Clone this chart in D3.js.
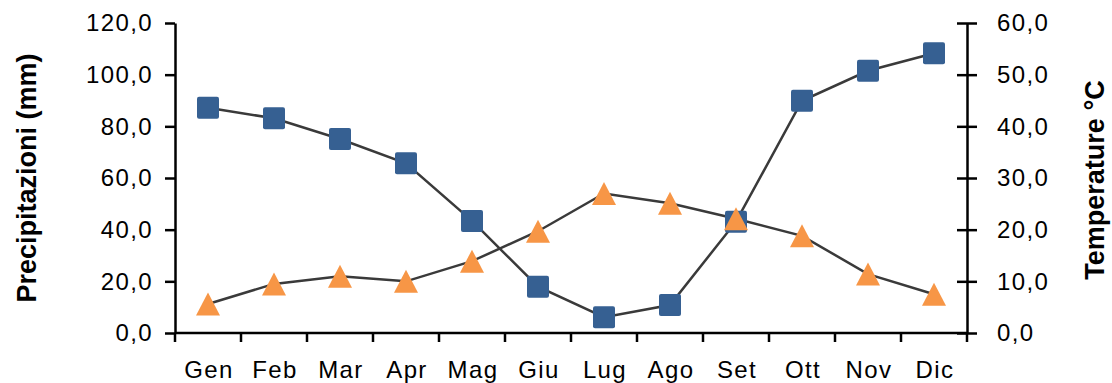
<!DOCTYPE html>
<html lang="it">
<head>
    <meta charset="UTF-8">
    <title>Precipitazioni e temperature</title>
    <script src="https://cdn.jsdelivr.net/npm/d3@7"></script>
    <style>
        body { margin: 0; background: #fff; }
        svg { display: block; }
        .tick-label { font-family: "Liberation Sans", Arial, sans-serif; font-size: 24px; letter-spacing: 1.4px; fill: #000; }
        .axis-title { font-family: "Liberation Sans", Arial, sans-serif; font-size: 27px; font-weight: bold; fill: #000; }
    </style>
</head>
<body>
<div id="chart"></div>
<script>
    // ---- data ----
    const months = ["Gen", "Feb", "Mar", "Apr", "Mag", "Giu", "Lug", "Ago", "Set", "Ott", "Nov", "Dic"];
    const precipitazioni = [87.2, 83.1, 75.1, 65.7, 43.4, 17.9, 6.1, 10.8, 43.1, 89.9, 101.5, 108.3];
    const temperature = [5.6, 9.5, 11.0, 10.0, 13.9, 19.7, 27.0, 25.1, 22.1, 18.8, 11.4, 7.5];
    const leftTicks = [0, 20, 40, 60, 80, 100, 120];
    const rightTicks = [0, 10, 20, 30, 40, 50, 60];

    // ---- layout ----
    const width = 1112, height = 383;
    const plot = { left: 175, right: 967, top: 23, bottom: 333 };

    const svg = d3.select("#chart").append("svg")
        .attr("width", width)
        .attr("height", height);

    const x = d3.scaleBand().domain(months).range([plot.left, plot.right]).padding(0);
    const yL = d3.scaleLinear().domain([0, 120]).range([plot.bottom, plot.top]);
    const yR = d3.scaleLinear().domain([0, 60]).range([plot.bottom, plot.top]);
    const fmt = d => d.toFixed(1).replace(".", ",");

    // left axis
    const gL = svg.append("g")
        .attr("transform", `translate(${plot.left},0)`)
        .call(d3.axisLeft(yL).tickValues(leftTicks).tickSize(10).tickSizeOuter(0).tickPadding(12).tickFormat(fmt));

    // right axis (ticks cross the line)
    const gR = svg.append("g")
        .attr("transform", `translate(${plot.right},0)`)
        .call(d3.axisRight(yR).tickValues(rightTicks).tickSize(10).tickSizeOuter(0).tickPadding(20).tickFormat(fmt));
    gR.selectAll(".tick line").attr("x1", -10);

    // bottom axis: ticks on band boundaries, labels at band centres
    const gB = svg.append("g")
        .attr("transform", `translate(0,${plot.bottom})`);
    gB.append("line")
        .attr("x1", plot.left).attr("x2", plot.right)
        .attr("stroke", "#000").attr("stroke-width", 2.5);
    const bounds = months.map(m => x(m)).concat([plot.right]);
    gB.selectAll(".bt").data(bounds).join("line")
        .attr("class", "bt")
        .attr("x1", d => d).attr("x2", d => d)
        .attr("y1", 0).attr("y2", 9)
        .attr("stroke", "#000").attr("stroke-width", 2.5);
    gB.selectAll(".tick-label").data(months).join("text")
        .attr("class", "tick-label")
        .attr("x", d => x(d) + x.bandwidth() / 2 + 1)
        .attr("y", 44.5)
        .attr("text-anchor", "middle")
        .text(d => d);

    [gL, gR].forEach(g => {
        g.attr("font-size", null).attr("font-family", null);
        g.select(".domain").attr("stroke", "#000").attr("stroke-width", 2.5);
        g.selectAll(".tick line").attr("stroke", "#000").attr("stroke-width", 2.5);
        g.selectAll(".tick text").attr("class", "tick-label");
    });

    // axis titles
    svg.append("text")
        .attr("class", "axis-title")
        .attr("transform", `translate(36,${(plot.top + plot.bottom) / 2}) rotate(-90)`)
        .attr("text-anchor", "middle")
        .text("Precipitazioni (mm)");
    svg.append("text")
        .attr("class", "axis-title")
        .attr("transform", `translate(1104,${(plot.top + plot.bottom) / 2 + 2}) rotate(-90)`)
        .attr("text-anchor", "middle")
        .text("Temperature °C");

    const cx = d => x(d) + x.bandwidth() / 2;

    // temperature line
    const tempData = months.map((m, i) => ({ m, v: temperature[i] }));
    svg.append("path")
        .datum(tempData)
        .attr("fill", "none")
        .attr("stroke", "#3a3a3a")
        .attr("stroke-width", 2.5)
        .attr("d", d3.line().x(d => cx(d.m)).y(d => yR(d.v)));

    // precipitation line + squares
    const precData = months.map((m, i) => ({ m, v: precipitazioni[i] }));
    svg.append("path")
        .datum(precData)
        .attr("fill", "none")
        .attr("stroke", "#3a3a3a")
        .attr("stroke-width", 2.5)
        .attr("d", d3.line().x(d => cx(d.m)).y(d => yL(d.v)));

    svg.selectAll(".sq").data(precData).join("rect")
        .attr("class", "sq")
        .attr("x", d => cx(d.m) - 11)
        .attr("y", d => yL(d.v) - 11)
        .attr("width", 22).attr("height", 22)
        .attr("rx", 2)
        .attr("fill", "#366092");

    // triangles on top
    svg.selectAll(".tri").data(tempData).join("path")
        .attr("class", "tri")
        .attr("transform", d => `translate(${cx(d.m)},${yR(d.v)})`)
        .attr("d", "M0,-11.5L12,11.5L-12,11.5Z")
        .attr("fill", "#f79646");
</script>
</body>
</html>
